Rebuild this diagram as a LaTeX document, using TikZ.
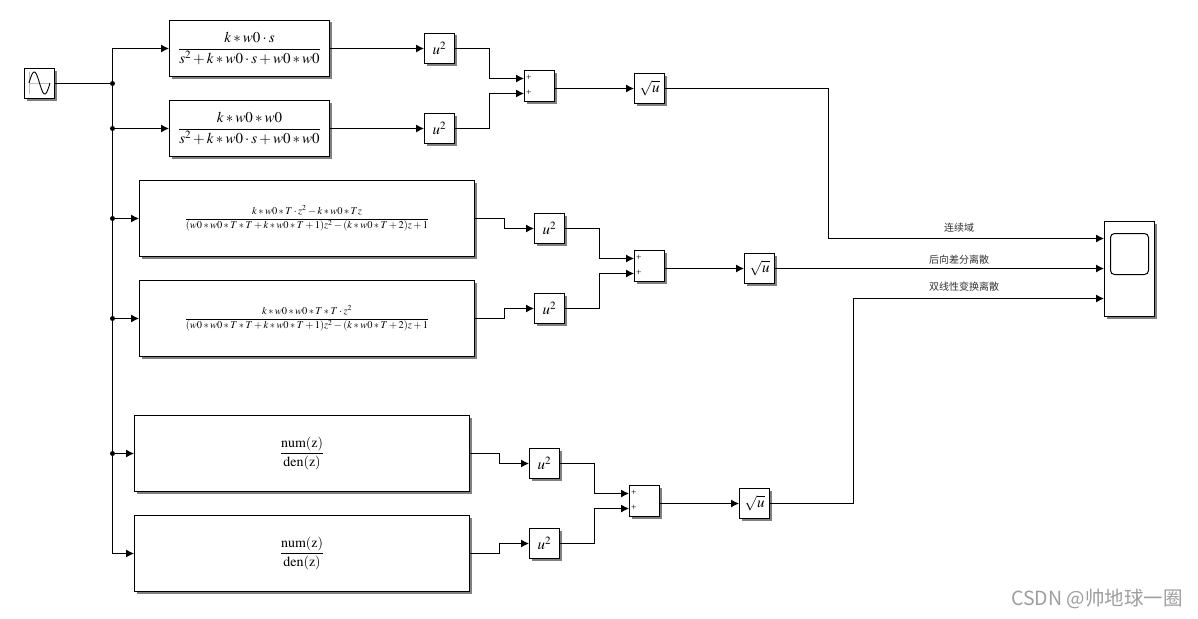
\documentclass[tikz,border=0pt]{standalone}
\usepackage{amsmath}
\usepackage{mathptmx}
\usepackage[no-math]{fontspec}
\setmainfont{Liberation Serif}
\newfontfamily\cjk{Noto Sans CJK SC}
\usetikzlibrary{arrows.meta,shadows,calc}
\newcommand{\fsz}[1]{\fontsize{#1}{#1}\selectfont}
\newcommand{\numden}{$\displaystyle\frac{\smash[b]{\mathrm{num(z)}}}{\smash[t]{\mathrm{den(z)}}}$}
\tikzset{
  x=1pt,y=-1pt,
  block/.style={draw=black,line width=1pt,fill=white,inner sep=0pt,outer sep=0pt,
    general shadow={shadow xshift=2pt,shadow yshift=-2pt,fill=black!50}},
  icon/.style={block,minimum width=30pt,minimum height=30pt,font=\fsz{15}},
  tfa/.style={block,minimum width=160pt,minimum height=56pt,font=\fsz{15}},
  tfb/.style={block,minimum width=335pt,minimum height=76pt,font=\fsz{10.4}},
  tfc/.style={block,minimum width=335pt,minimum height=76pt,font=\fsz{14}},
  sumb/.style={block,minimum width=30pt,minimum height=31pt},
  scopeb/.style={block,minimum width=50pt,minimum height=95pt},
  wire/.style={line width=1pt,-{Latex[length=8pt,width=8pt]},shorten >=0.5pt},
  line/.style={line width=1pt},
  dot/.style={circle,fill=black,inner sep=0pt,minimum size=5pt},
  plus/.style={inner sep=0pt,font=\fsz{9.5}},
  lab/.style={inner sep=0pt,font=\cjk\fsz{10},text=black!80},
}
\begin{document}
\begin{tikzpicture}
\useasboundingbox (0,0) rectangle (1198,618);
\fill[white] (0,0) rectangle (1198,618);
% source
\node[icon] (src) at (39.5,83.5) {};
\draw[black!25,line width=0.8pt] (29,72) -- (29,94) (29,83) -- (50,83);
\draw[line width=0.9pt,domain=0:360,samples=50,smooth] plot ({29+\x*21/360},{83-11*sin(\x)});
% continuous
\node[tfa] (tf1) at (249.5,48.5) {$\displaystyle\frac{k*w0\cdot s}{s^2+k*w0\cdot s+w0*w0}$};
\node[tfa] (tf2) at (249.5,128.5) {$\displaystyle\frac{k*w0*w0}{s^2+k*w0\cdot s+w0*w0}$};
\node[icon] (sq1) at (439.5,48.5) {$u^2$};
\node[icon] (sq2) at (439.5,128.5) {$u^2$};
\node[sumb] (sum1) at (539.5,86) {};
\node[icon] (rt1) at (649.5,88.5) {$\sqrt{u}$};
% backward difference
\node[tfb] (tf3) at (307,218.5) {$\displaystyle\frac{k*w0*T\cdot z^2-k*w0*Tz}{(w0*w0*T*T+k*w0*T+1)z^2-(k*w0*T+2)z+1}$};
\node[tfb] (tf4) at (307,318.5) {$\displaystyle\frac{k*w0*w0*T*T\cdot z^2}{(w0*w0*T*T+k*w0*T+1)z^2-(k*w0*T+2)z+1}$};
\node[icon] (sq3) at (549.5,228.5) {$u^2$};
\node[icon] (sq4) at (549.5,308.5) {$u^2$};
\node[sumb] (sum2) at (649.5,266) {};
\node[icon] (rt2) at (759.5,268.5) {$\sqrt{u}$};
% bilinear
\node[tfc] (tf5) at (302,453.5) {\numden};
\node[tfc] (tf6) at (302,553.5) {\numden};
\node[icon] (sq5) at (544.5,463.5) {$u^2$};
\node[icon] (sq6) at (544.5,543.5) {$u^2$};
\node[sumb] (sum3) at (644.5,501) {};
\node[icon] (rt3) at (754.5,503.5) {$\sqrt{u}$};
% scope
\node[scopeb] (scope) at (1129.5,269) {};
\node[draw=black,line width=1pt,rounded corners=4pt,minimum width=38pt,minimum height=41pt,inner sep=0pt] (screen) at (1129.5,254) {};
% ports
\coordinate (a1) at (524.5,78.5); \coordinate (a2) at (524.5,93.5);
\coordinate (b1) at (634.5,258.5); \coordinate (b2) at (634.5,273.5);
\coordinate (c1) at (629.5,493.5); \coordinate (c2) at (629.5,508.5);
\coordinate (o1) at (554.5,88.5); \coordinate (o2) at (664.5,268.5); \coordinate (o3) at (659.5,503.5);
\coordinate (p1) at (1104.5,238.5); \coordinate (p2) at (1104.5,268.5); \coordinate (p3) at (1104.5,298.5);
\node[plus,anchor=west] (pa1) at (526,78) {+};
\node[plus,anchor=west] (pa2) at (526,93) {+};
\node[plus,anchor=west] (pb1) at (636,258) {+};
\node[plus,anchor=west] (pb2) at (636,273) {+};
\node[plus,anchor=west] (pc1) at (631,493) {+};
\node[plus,anchor=west] (pc2) at (631,508) {+};
% trunk
\coordinate (j1) at (112.5,83.5);
\coordinate (j2) at (112.5,128.5);
\coordinate (j3) at (112.5,218.5);
\coordinate (j4) at (112.5,318.5);
\coordinate (j5) at (112.5,453.5);
\draw[line] (src.east) -- (j1);
\draw[wire] (j1) |- (tf1.west);
\draw[wire] (j1) -- (j2) -- (j3) -- (j4) -- (j5) |- (tf6.west);
\draw[wire] (j2) -- (tf2.west);
\draw[wire] (j3) -- (tf3.west);
\draw[wire] (j4) -- (tf4.west);
\draw[wire] (j5) -- (tf5.west);
\foreach \j in {j1,j2,j3,j4,j5} \node[dot] at (\j) {};
% group 1 wires
\draw[wire] (tf1.east) -- (sq1.west);
\draw[wire] (tf2.east) -- (sq2.west);
\draw[wire] (sq1.east) -- ++(35,0) |- (a1);
\draw[wire] (sq2.east) -- ++(35,0) |- (a2);
\draw[wire] (o1) -- (rt1.west);
% group 2 wires
\draw[wire] (tf3.east) -- ++(30,0) |- (sq3.west);
\draw[wire] (tf4.east) -- ++(30,0) |- (sq4.west);
\draw[wire] (sq3.east) -- ++(35,0) |- (b1);
\draw[wire] (sq4.east) -- ++(35,0) |- (b2);
\draw[wire] (o2) -- (rt2.west);
% group 3 wires
\draw[wire] (tf5.east) -- ++(30,0) |- (sq5.west);
\draw[wire] (tf6.east) -- ++(30,0) |- (sq6.west);
\draw[wire] (sq5.east) -- ++(35,0) |- (c1);
\draw[wire] (sq6.east) -- ++(35,0) |- (c2);
\draw[wire] (o3) -- (rt3.west);
% to scope
\draw[wire] (rt1.east) -- ++(164,0) |- (p1);
\draw[wire] (rt2.east) -- (p2);
\draw[wire] (rt3.east) -- ++(84,0) |- (p3);
% labels
\node[lab] (l1) at (959,227.5) {连续域};
\node[lab] (l2) at (959,259.5) {后向差分离散};
\node[lab] (l3) at (964,286.5) {双线性变换离散};
\node[inner sep=0pt,anchor=east,font=\cjk\fsz{19.5},text=black!38] (wm) at (1183,599) {CSDN @帅地球一圈};
\end{tikzpicture}
\end{document}
